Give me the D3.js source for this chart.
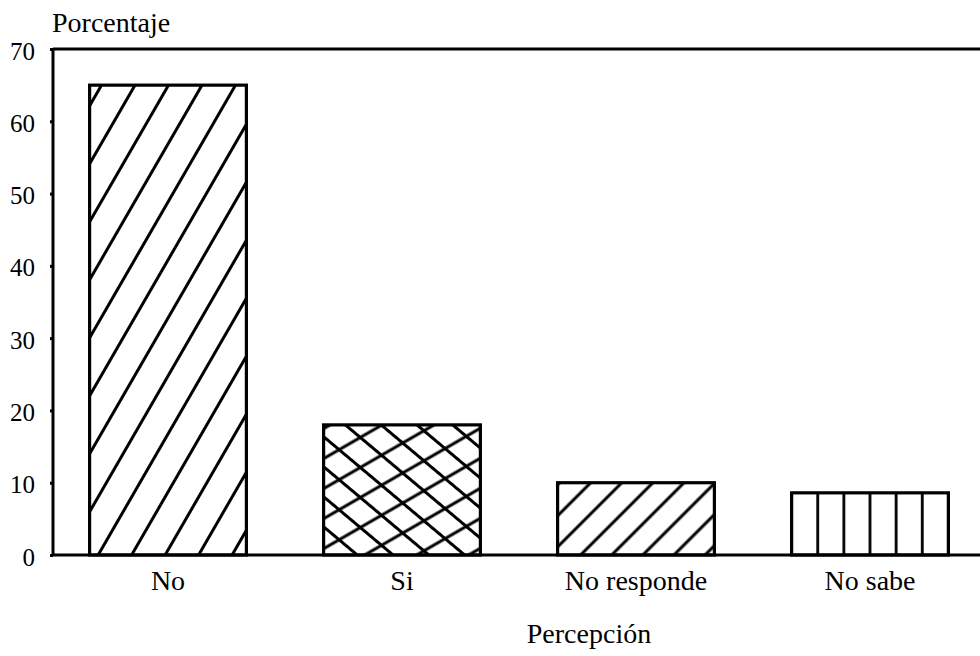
<!DOCTYPE html>
<html>
<head>
<meta charset="utf-8">
<script src="https://cdn.jsdelivr.net/npm/d3@7"></script>
<style>
  html, body { margin: 0; padding: 0; background: #fff; }
  svg text { font-family: "Liberation Serif", "Times New Roman", serif; fill: #000; }
</style>
</head>
<body>
<svg id="chart" width="980" height="656"></svg>
<script>
const categories = ["No", "Si", "No responde", "No sabe"];
const values = [65, 18, 10, 8.6];
const patterns = ["diagSteep", "cross", "diag45", "vert"];
const yTicks = [0, 10, 20, 30, 40, 50, 60, 70];
const yTitle = "Porcentaje";
const xTitle = "Percepción";

(function () {
const svg = d3.select("#chart");
const ink = "#000";
const fs = 28, tfs = 25;
const mLeft = 53, mRight = 980, mTop = 49, mBottom = 555;

const x = d3.scaleBand().domain(categories).range([51, 987])
  .paddingInner(0.33).paddingOuter(0.165);
const y = d3.scaleLinear().domain([0, 70]).range([mBottom, mTop]);

const defs = svg.append("defs");
function linePattern(id, spacing, angle, sw) {
  const p = defs.append("pattern").attr("id", id)
    .attr("patternUnits", "userSpaceOnUse")
    .attr("width", spacing).attr("height", 40)
    .attr("patternTransform", `rotate(${angle})`);
  p.append("line").attr("x1", spacing / 2).attr("x2", spacing / 2)
    .attr("y1", -5).attr("y2", 45).attr("stroke", ink).attr("stroke-width", sw);
  return p;
}
linePattern("diagSteep", 29, 30, 3);
linePattern("diag45", 22, 45, 3);
linePattern("crossA", 26, 60, 3);
linePattern("crossB", 23, -50, 3);

const nsX = x("No sabe");
const vw = x.bandwidth() / 6;
const vp = defs.append("pattern").attr("id", "vert")
  .attr("patternUnits", "userSpaceOnUse")
  .attr("x", nsX - vw / 2).attr("y", 0).attr("width", vw).attr("height", 20);
vp.append("line").attr("x1", vw / 2).attr("x2", vw / 2).attr("y1", -2).attr("y2", 22)
  .attr("stroke", ink).attr("stroke-width", 2.8);

const g = svg.append("g");
categories.forEach((c, i) => {
  const bx = x(c), bw = x.bandwidth(), by = y(values[i]), bh = y(0) - y(values[i]);
  const pat = patterns[i];
  if (pat === "cross") {
    g.append("rect").attr("x", bx).attr("y", by).attr("width", bw).attr("height", bh)
      .attr("fill", "url(#crossA)");
    g.append("rect").attr("x", bx).attr("y", by).attr("width", bw).attr("height", bh)
      .attr("fill", "url(#crossB)");
  } else {
    g.append("rect").attr("x", bx).attr("y", by).attr("width", bw).attr("height", bh)
      .attr("fill", `url(#${pat})`);
  }
  g.append("rect").attr("x", bx).attr("y", by).attr("width", bw).attr("height", bh)
    .attr("fill", "none").attr("stroke", ink).attr("stroke-width", 3.2);
});

const yAxis = d3.axisLeft(y).tickValues(yTicks).tickSize(3).tickPadding(15)
  .tickFormat(d3.format("d"));
const ya = svg.append("g").attr("transform", `translate(${mLeft},0)`).call(yAxis);
ya.select(".domain").remove();
ya.selectAll(".tick line").attr("stroke", ink).attr("stroke-width", 3);
ya.selectAll(".tick text").attr("font-size", tfs).attr("fill", ink)
  .style("font-family", '"Liberation Serif", serif').attr("dy", "0.4em");

svg.append("line").attr("x1", mLeft).attr("x2", mLeft).attr("y1", mTop).attr("y2", mBottom)
  .attr("stroke", ink).attr("stroke-width", 3);
svg.append("line").attr("x1", mLeft).attr("x2", mRight).attr("y1", mBottom).attr("y2", mBottom)
  .attr("stroke", ink).attr("stroke-width", 3);
svg.append("line").attr("x1", mLeft).attr("x2", mRight).attr("y1", mTop).attr("y2", mTop)
  .attr("stroke", ink).attr("stroke-width", 3);

const xa = d3.axisBottom(x).tickSize(0).tickPadding(0);
const xg = svg.append("g").attr("transform", `translate(0,${mBottom})`).call(xa);
xg.select(".domain").remove();
xg.selectAll(".tick text").attr("font-size", fs).attr("fill", ink)
  .style("font-family", '"Liberation Serif", serif')
  .attr("y", 35).attr("dy", 0);

svg.append("text").attr("x", 52).attr("y", 32).attr("font-size", fs).text(yTitle);
svg.append("text").attr("x", 589).attr("y", 643).attr("text-anchor", "middle")
  .attr("font-size", fs).text(xTitle);
})();
</script>
</body>
</html>
